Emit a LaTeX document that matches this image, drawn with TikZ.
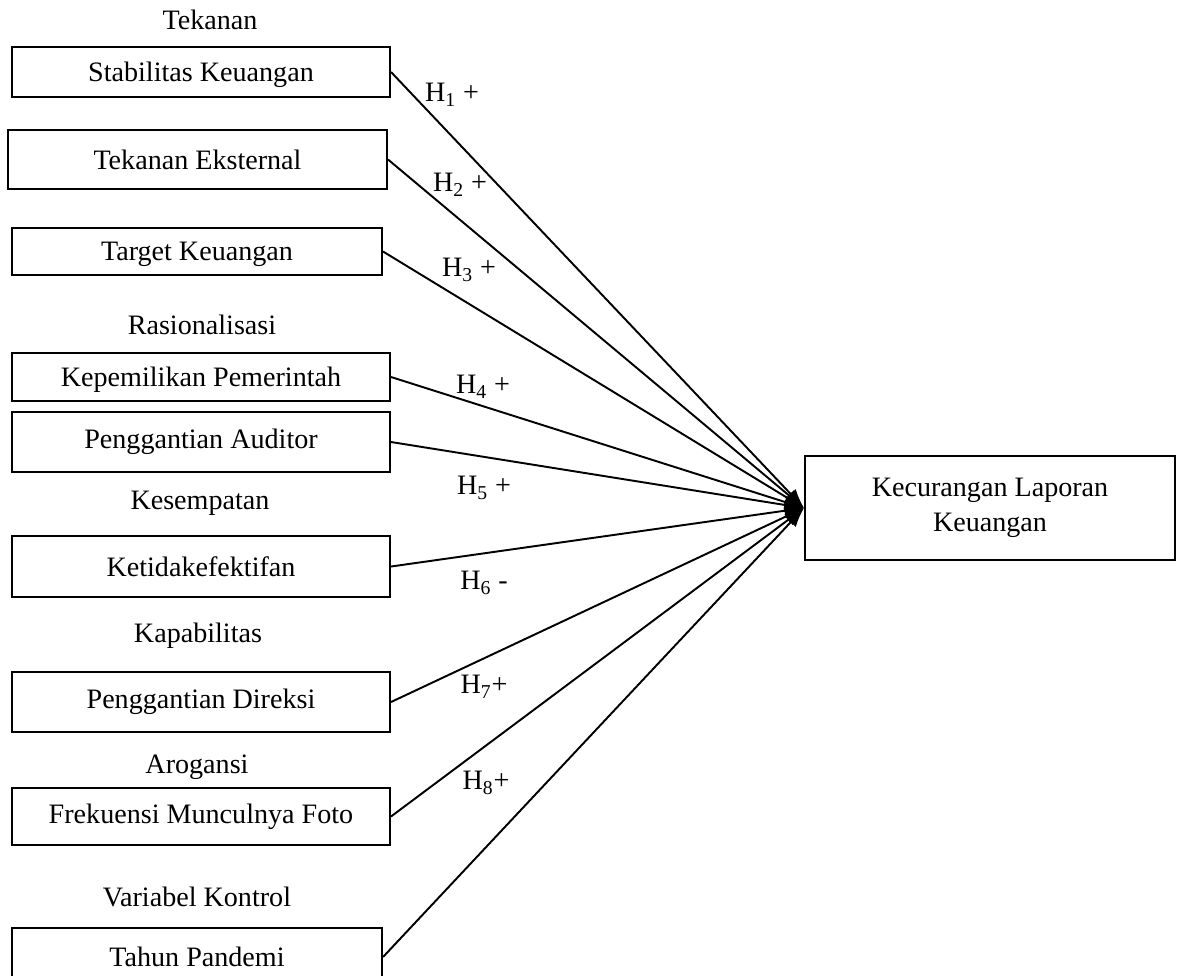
\documentclass[tikz,border=0pt]{standalone}
\usepackage{fontspec}
\setmainfont{Liberation Serif}
\usetikzlibrary{arrows.meta}

\tikzset{
  varbox/.style={draw, line width=1.2pt, inner sep=0pt, align=center,
    font=\fontsize{16}{20}\selectfont},
  grouplabel/.style={font=\fontsize{16}{19}\selectfont},
  hyplabel/.style={font=\fontsize{16}{19}\selectfont},
  hyparrow/.style={-{Latex[length=11pt,width=8pt]}, line width=1.1pt}
}

\begin{document}
\begin{tikzpicture}[x=0.02cm, y=-0.02cm]
      \clip (0,0) rectangle (1179,975);

      % variabel independen
      \node [grouplabel] (tekanan) at (210, 20) {Tekanan};
      \node [varbox, minimum width=7.56cm, minimum height=1.00cm, text depth=0pt] (stab) at (201, 72) {Stabilitas Keuangan};
      \node [varbox, minimum width=7.58cm, minimum height=1.18cm] (eks) at (197.5, 159.5) {Tekanan Eksternal};
      \node [varbox, minimum width=7.40cm, minimum height=0.94cm, text depth=0pt] (tgt) at (197, 251.5) {Target Keuangan};

      \node [grouplabel] (rasio) at (202, 325) {Rasionalisasi};
      \node [varbox, minimum width=7.56cm, minimum height=0.96cm, text depth=0pt] (kep) at (201, 377) {Kepemilikan Pemerintah};
      \node [varbox, minimum width=7.56cm, minimum height=1.20cm] (aud) at (201, 442) {Penggantian Auditor};

      \node [grouplabel] (sempat) at (200, 503) {Kesempatan};
      \node [varbox, minimum width=7.56cm, minimum height=1.22cm] (ket) at (201, 566.5) {Ketidakefektifan};

      \node [grouplabel] (kapab) at (198, 636) {Kapabilitas};
      \node [varbox, minimum width=7.56cm, minimum height=1.20cm] (dir) at (201, 702) {Penggantian Direksi};

      \node [grouplabel] (arog) at (197, 767) {Arogansi};
      \node [varbox, minimum width=7.56cm, minimum height=1.14cm] (foto) at (201, 816.5) {Frekuensi Munculnya Foto};

      \node [grouplabel] (kontrol) at (197, 897) {Variabel Kontrol};
      \node [varbox, minimum width=7.40cm, minimum height=1.16cm] (thn) at (197, 957) {Tahun Pandemi};

      % variabel dependen
      \node [varbox, minimum width=7.40cm, minimum height=2.08cm] (klk) at (990, 508) {Kecurangan Laporan\\Keuangan};

      % hipotesis
      \draw [hyparrow] (stab.east) -- (klk.west);
      \draw [hyparrow] (eks.east) -- (klk.west);
      \draw [hyparrow] (tgt.east) -- (klk.west);
      \draw [hyparrow] (kep.east) -- (klk.west);
      \draw [hyparrow] (aud.east) -- (klk.west);
      \draw [hyparrow] (ket.east) -- (klk.west);
      \draw [hyparrow] (dir.east) -- (klk.west);
      \draw [hyparrow] (foto.east) -- (klk.west);
      \draw [hyparrow] (thn.east) -- (klk.west);

      \node [hyplabel] (h1) at (452, 95) {H\textsubscript{1} +};
      \node [hyplabel] (h2) at (460, 185) {H\textsubscript{2} +};
      \node [hyplabel] (h3) at (469, 270) {H\textsubscript{3} +};
      \node [hyplabel] (h4) at (483, 387) {H\textsubscript{4} +};
      \node [hyplabel] (h5) at (484, 488) {H\textsubscript{5} +};
      \node [hyplabel] (h6) at (484, 583) {H\textsubscript{6} -};
      \node [hyplabel] (h7) at (484, 687) {H\textsubscript{7}+};
      \node [hyplabel] (h8) at (486, 783) {H\textsubscript{8}+};
\end{tikzpicture}
\end{document}
